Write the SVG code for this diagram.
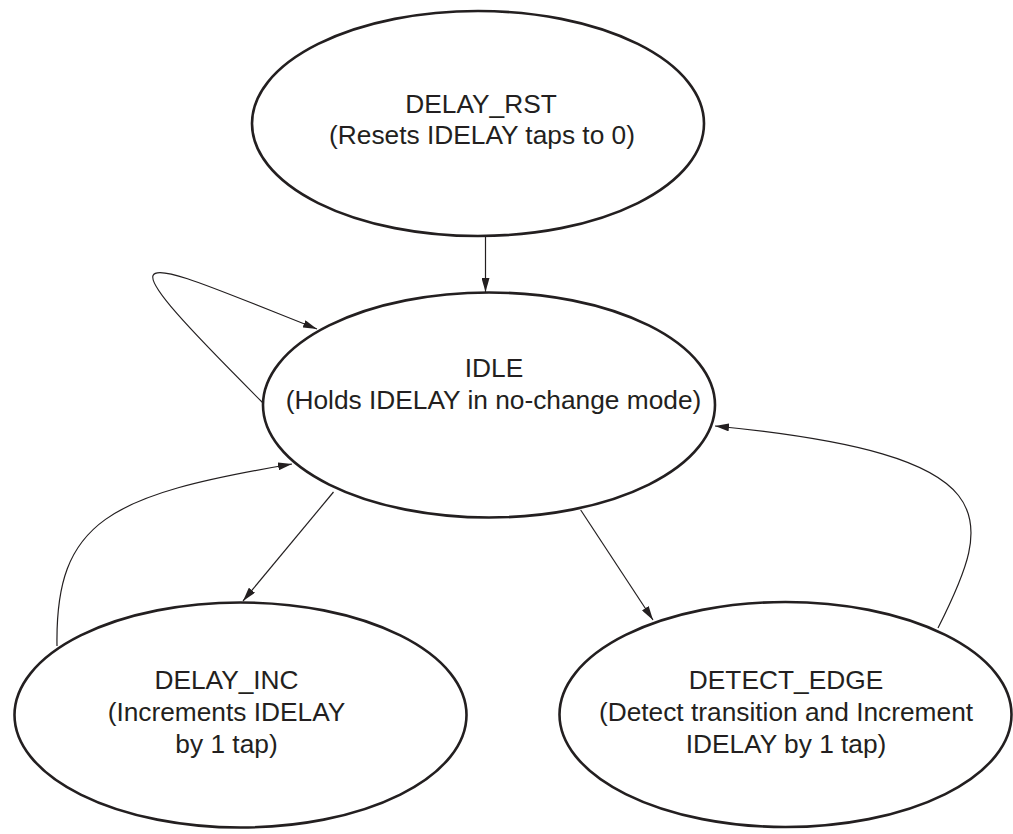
<svg xmlns="http://www.w3.org/2000/svg" width="1013" height="834" viewBox="0 0 1013 834">
<style>
.node{fill:#fff;stroke:#231f20;stroke-width:2.6}
.lbl{font-family:"Liberation Sans",Arial,sans-serif;font-size:26.3px;fill:#231f20;text-anchor:middle}
.edge{fill:none;stroke:#231f20;stroke-width:1.2;marker-end:url(#ah)}
</style>
<defs>
<marker id="ah" viewBox="0 0 14 8" refX="14" refY="4" markerWidth="14" markerHeight="8" markerUnits="userSpaceOnUse" orient="auto">
<path d="M0,0 L14,4 L0,8 Z" fill="#231f20"/>
</marker>
</defs>
<rect width="1013" height="834" fill="#fff"/>
<g id="connectors">
<path class="edge" d="M485.5,237 L485.5,292"/>
<path class="edge" d="M263,403 C90,230 130,255 317,329"/>
<path class="edge" d="M57,646 C55,520 110,495 292,464"/>
<path class="edge" d="M333.5,492 L243,601"/>
<path class="edge" d="M580.7,510 L653,620"/>
<path class="edge" d="M938,628 C995,515 1010,455 715,426"/>
</g>
<g id="delay_rst">
<ellipse class="node" cx="478" cy="123.5" rx="226" ry="112.5"/>
<text class="lbl" x="481" y="112.7">DELAY_RST</text>
<text class="lbl" x="482" y="144">(Resets IDELAY taps to 0)</text>
</g>
<g id="idle">
<ellipse class="node" cx="489" cy="405" rx="226" ry="112.5"/>
<text class="lbl" x="494" y="377.3">IDLE</text>
<text class="lbl" x="493.5" y="409.3">(Holds IDELAY in no-change mode)</text>
</g>
<g id="delay_inc">
<ellipse class="node" cx="240.5" cy="715" rx="226" ry="112.5"/>
<text class="lbl" x="226.5" y="689.3">DELAY_INC</text>
<text class="lbl" x="226.5" y="720.7">(Increments IDELAY</text>
<text class="lbl" x="226.5" y="752.7">by 1 tap)</text>
</g>
<g id="detect_edge">
<ellipse class="node" cx="785.5" cy="714.5" rx="226" ry="112.5"/>
<text class="lbl" x="786" y="689.3">DETECT_EDGE</text>
<text class="lbl" x="786" y="720.7">(Detect transition and Increment</text>
<text class="lbl" x="786" y="752.7">IDELAY by 1 tap)</text>
</g>
</svg>
